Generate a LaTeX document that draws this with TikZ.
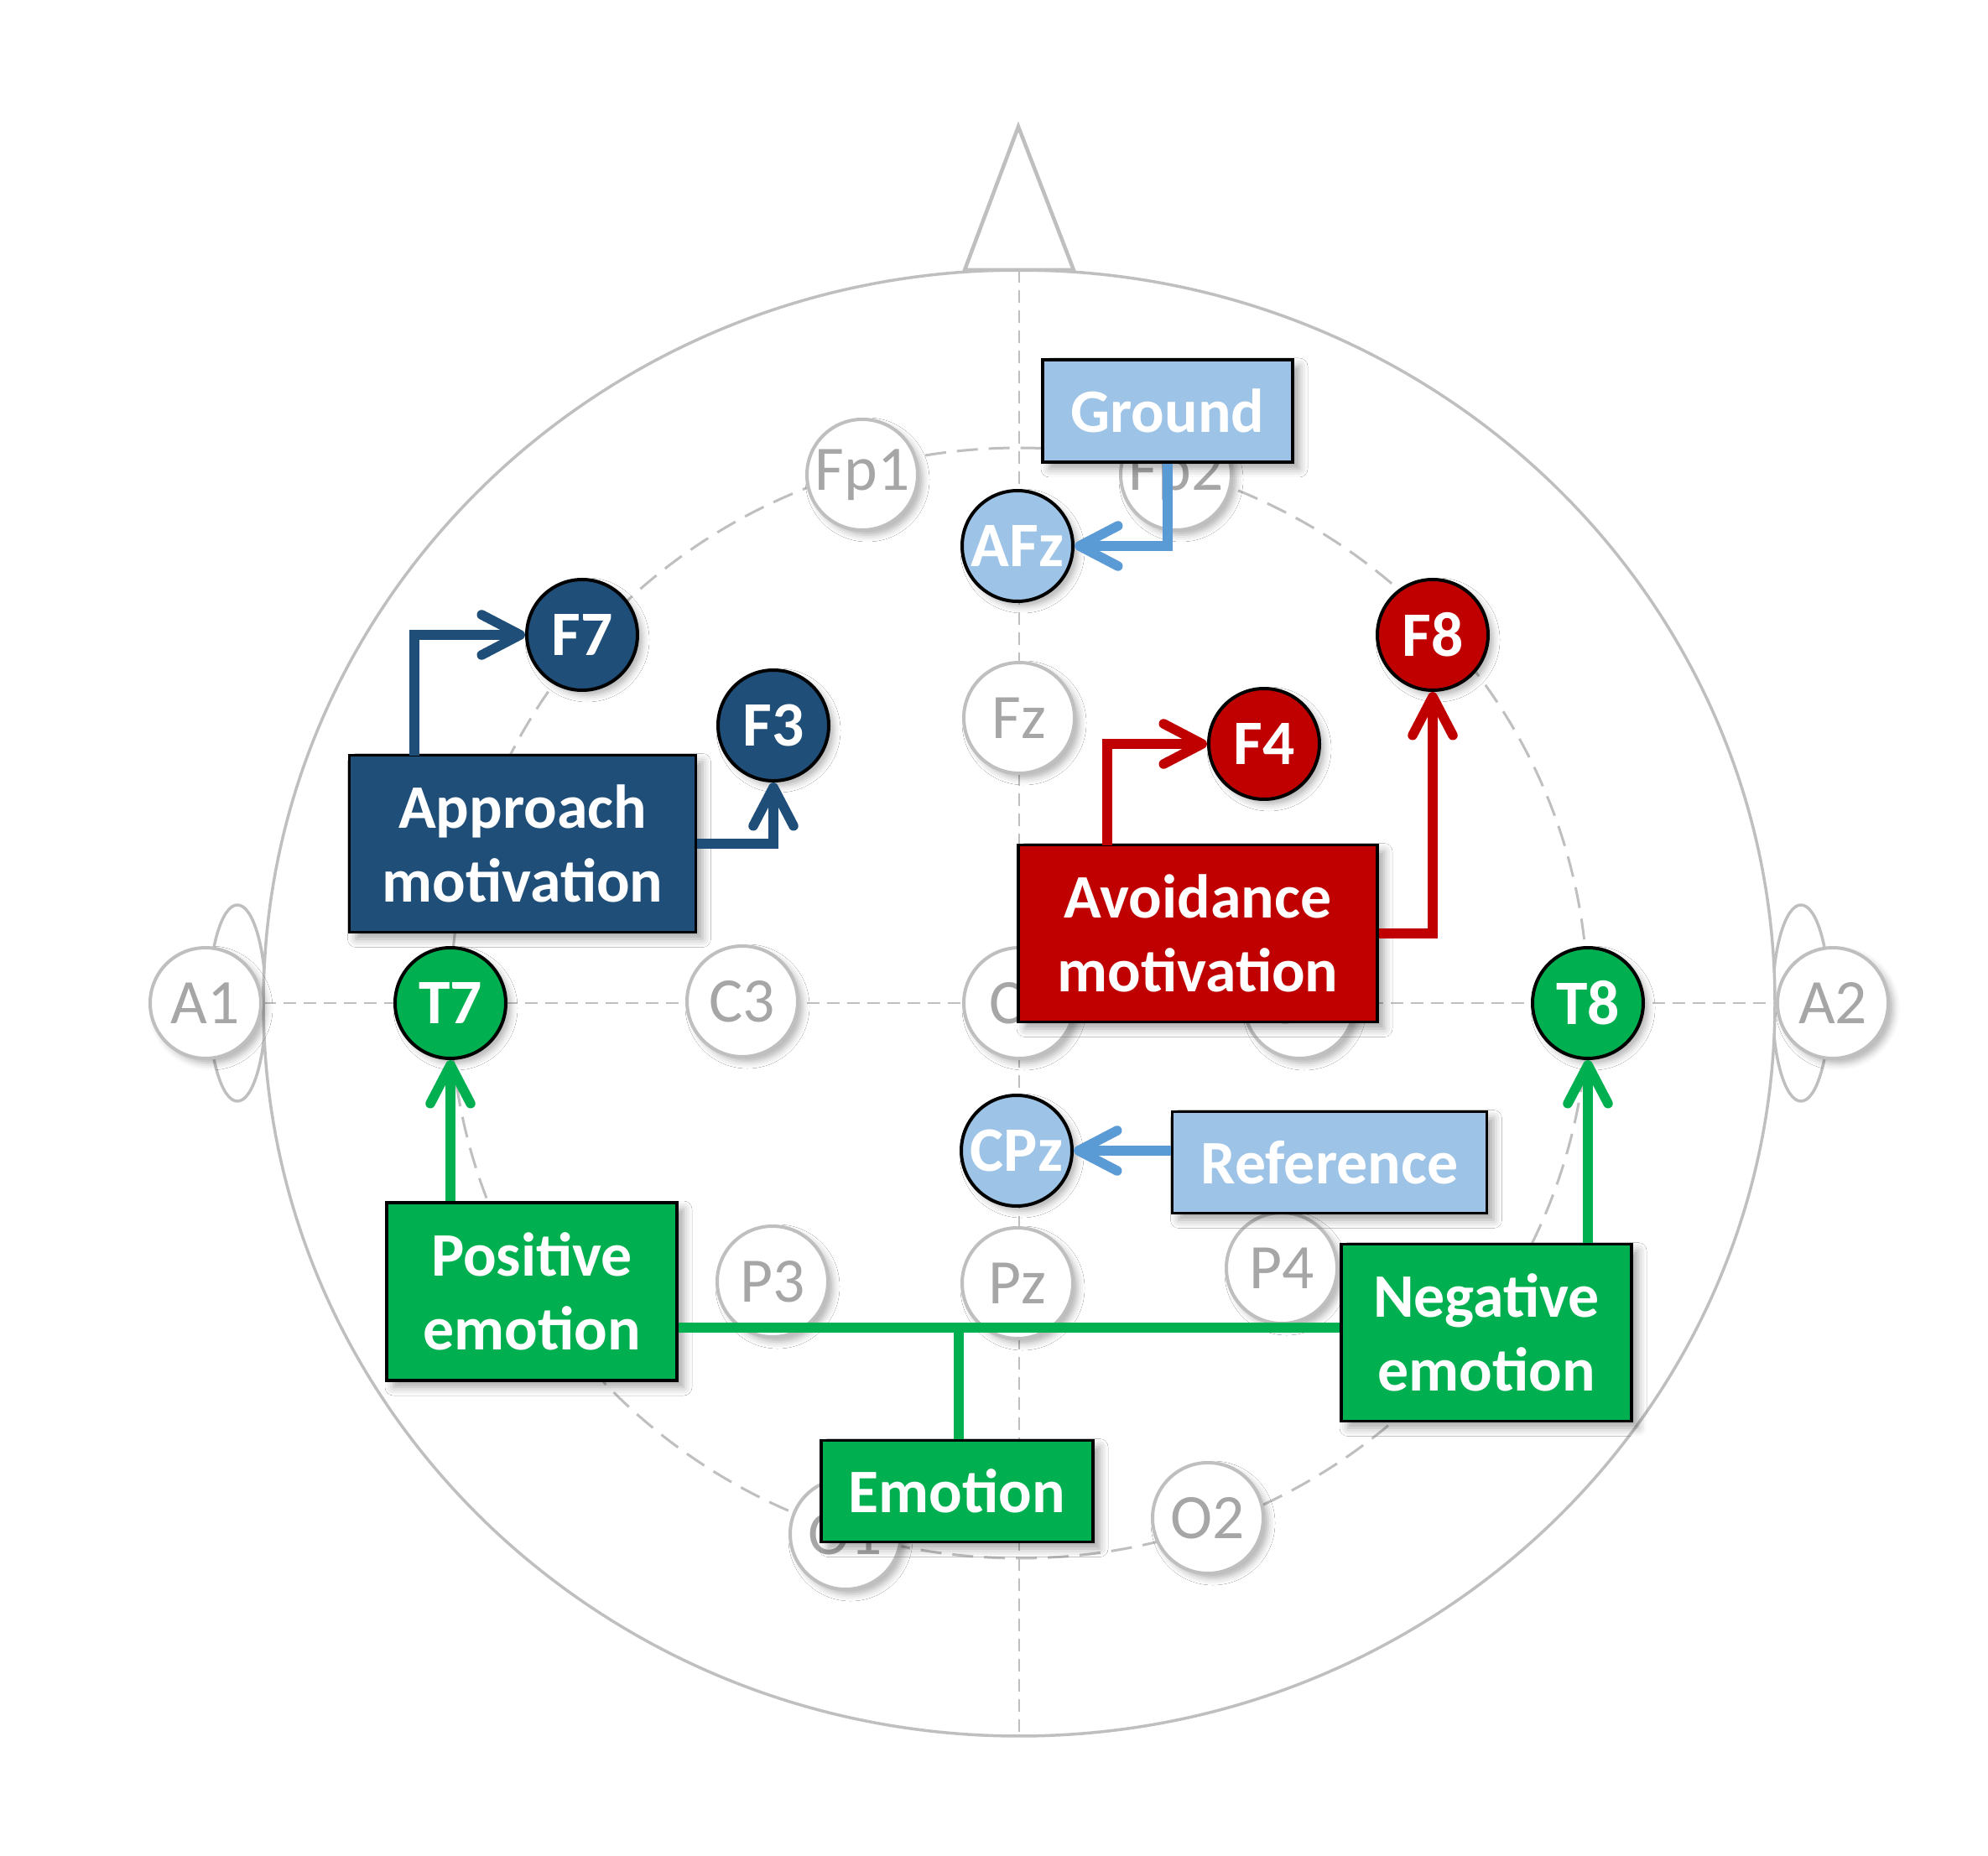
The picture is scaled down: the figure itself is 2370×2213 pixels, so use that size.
\documentclass[tikz,border=0pt]{standalone}
\usepackage{fontspec}
\setmainfont{Carlito}
\usetikzlibrary{arrows.meta,shadows.blur}
\definecolor{apprblue}{HTML}{1F4E79}
\definecolor{avoidred}{HTML}{C00000}
\definecolor{emogreen}{HTML}{00B050}
\definecolor{reflight}{HTML}{9DC3E6}
\definecolor{refarrow}{HTML}{5B9BD5}
\definecolor{headgrey}{HTML}{BFBFBF}
\definecolor{labelgrey}{HTML}{A6A6A6}
\tikzset{
  head/.style={
    % The outline of head, ears and nose
    draw=headgrey,line width=0.35mm,fill=white},
  midline/.style={
    draw=headgrey,line width=0.2mm,dash pattern=on 1.5mm off 0.9mm},
  ring/.style={
    draw=headgrey,line width=0.3mm,dash pattern=on 2.5mm off 1.3mm}}
\tikzset{
  elec/.style={
    % The shape:
    circle,minimum size=13.2mm,inner sep=0pt,
    % The border:
    line width=0.4mm,draw=headgrey,
    % The filling:
    fill=white,
    blur shadow={shadow xshift=0.6mm,shadow yshift=-0.6mm,shadow blur radius=0.8mm,shadow opacity=30},
    % The text:
    text=labelgrey,font=\fontsize{21.5}{25}\selectfont}}
\tikzset{
  site/.style={
    % a coloured electrode, #1 is the filling
    elec,draw=black,fill=#1,
    text=white,font=\fontsize{21.5}{25}\selectfont\bfseries}}
\tikzset{
  topic/.style={
    % The shape:
    rectangle,inner sep=1mm,align=center,
    % The border:
    line width=0.35mm,draw=black,
    % The filling:
    fill=#1,
    blur shadow={shadow xshift=0.8mm,shadow yshift=-0.8mm,shadow blur radius=1mm,shadow opacity=35},
    % The text:
    text=white,font=\fontsize{21}{25}\selectfont\bfseries},
  link/.style={line width=1.15mm,draw=#1}}

\begin{document}
\begin{tikzpicture}[x=0.1mm,y=-0.1mm,>={Straight Barb[length=4.6mm,width=4.8mm,round]}]
	\useasboundingbox (0,0) rectangle (2370,2213);
	% Ears, head and nose
	\draw[head] (283,1196) ellipse [x radius=3.4mm,y radius=11.7mm];
	\draw[head] (2147,1196) ellipse [x radius=3.4mm,y radius=11.7mm];
	\draw[head] (1215,1196) ellipse [x radius=90.1mm,y radius=87.4mm];
	\draw[head,line width=0.45mm] (1150,322) -- (1214,151) -- (1280,322) -- cycle;
	% Midlines and the dashed ring
	\draw[midline] (314,1196) -- (2116,1196);
	\draw[midline] (1215,322) -- (1215,2071);
	\draw[ring] (1215,1196) ellipse [x radius=67.8mm,y radius=66.2mm];
	% Unused electrodes
	\node[elec] (Fp1) at (1028,566) {Fp1};
	\node[elec] (Fp2) at (1402,566) {Fp2};
	\node[elec] (Fz) at (1215,856) {Fz};
	\node[elec] (A1) at (245,1196) {A1};
	\node[elec] (C3) at (885,1194) {C3};
	\node[elec] (Cz) at (1215,1196) {Cz};
	\node[elec] (C4) at (1549,1196) {C4};
	\node[elec] (A2) at (2185,1196) {A2};
	\node[elec] (P3) at (921,1528) {P3};
	\node[elec] (Pz) at (1213,1530) {Pz};
	\node[elec] (P4) at (1528,1512) {P4};
	\node[elec] (O1) at (1008,1829) {O1};
	\node[elec] (O2) at (1440,1810) {O2};
	% Recorded electrodes
	\node[site=reflight] (AFz) at (1213,651) {AFz};
	\node[site=reflight] (CPz) at (1212,1372) {CPz};
	\node[site=apprblue] (F7) at (694,757) {F7};
	\node[site=apprblue] (F3) at (922,865) {F3};
	\node[site=avoidred] (F4) at (1507,887) {F4};
	\node[site=avoidred] (F8) at (1708,757) {F8};
	\node[site=emogreen] (T7) at (537,1196) {T7};
	\node[site=emogreen] (T8) at (1893,1196) {T8};
	% Boxes
	\node[topic=reflight,minimum width=29.8mm,minimum height=12.2mm] (ground) at (1392,490) {Ground};
	\node[topic=reflight,minimum width=37.5mm,minimum height=12.1mm] (ref) at (1585,1386) {Reference};
	\node[topic=apprblue,minimum width=41.3mm,minimum height=21.1mm] (appr) at (623,1006) {Approach\\motivation};
	\node[topic=avoidred,minimum width=42.8mm,minimum height=21.1mm] (avoid) at (1428,1113) {Avoidance\\motivation};
	\node[topic=emogreen,minimum width=34.6mm,minimum height=21.2mm] (pos) at (634,1540) {Positive\\emotion};
	\node[topic=emogreen,minimum width=34.6mm,minimum height=21.1mm] (neg) at (1772,1589) {Negative\\emotion};
	\node[topic=emogreen,minimum width=32.4mm,minimum height=12.1mm] (emo) at (1141,1778) {Emotion};
	\coordinate (apprup) at (494,901);
	\coordinate (avoidup) at (1320,1008);
	\coordinate (bus) at (1143,1583);
	% Lines out of the blue boxes
	\draw[link=refarrow,->] (ground) |- (AFz);
	\draw[link=refarrow,->] (ref.west |- CPz.east) -- (CPz.east);
	% Lines out of appr
	\draw[link=apprblue,->] (apprup) |- (F7);
	\draw[link=apprblue,->] (appr) -| (F3);
	% Lines out of avoid
	\draw[link=avoidred,->] (avoidup) |- (F4);
	\draw[link=avoidred,->] (avoid) -| (F8);
	% Lines of the emotions
	\draw[link=emogreen,->] (pos.north -| T7) -- (T7);
	\draw[link=emogreen,->] (neg.north -| T8) -- (T8);
	\draw[link=emogreen] (pos.east |- bus) -- (neg.west |- bus);
	\draw[link=emogreen] (emo.north -| bus) -- (bus);
\end{tikzpicture}
\end{document}
